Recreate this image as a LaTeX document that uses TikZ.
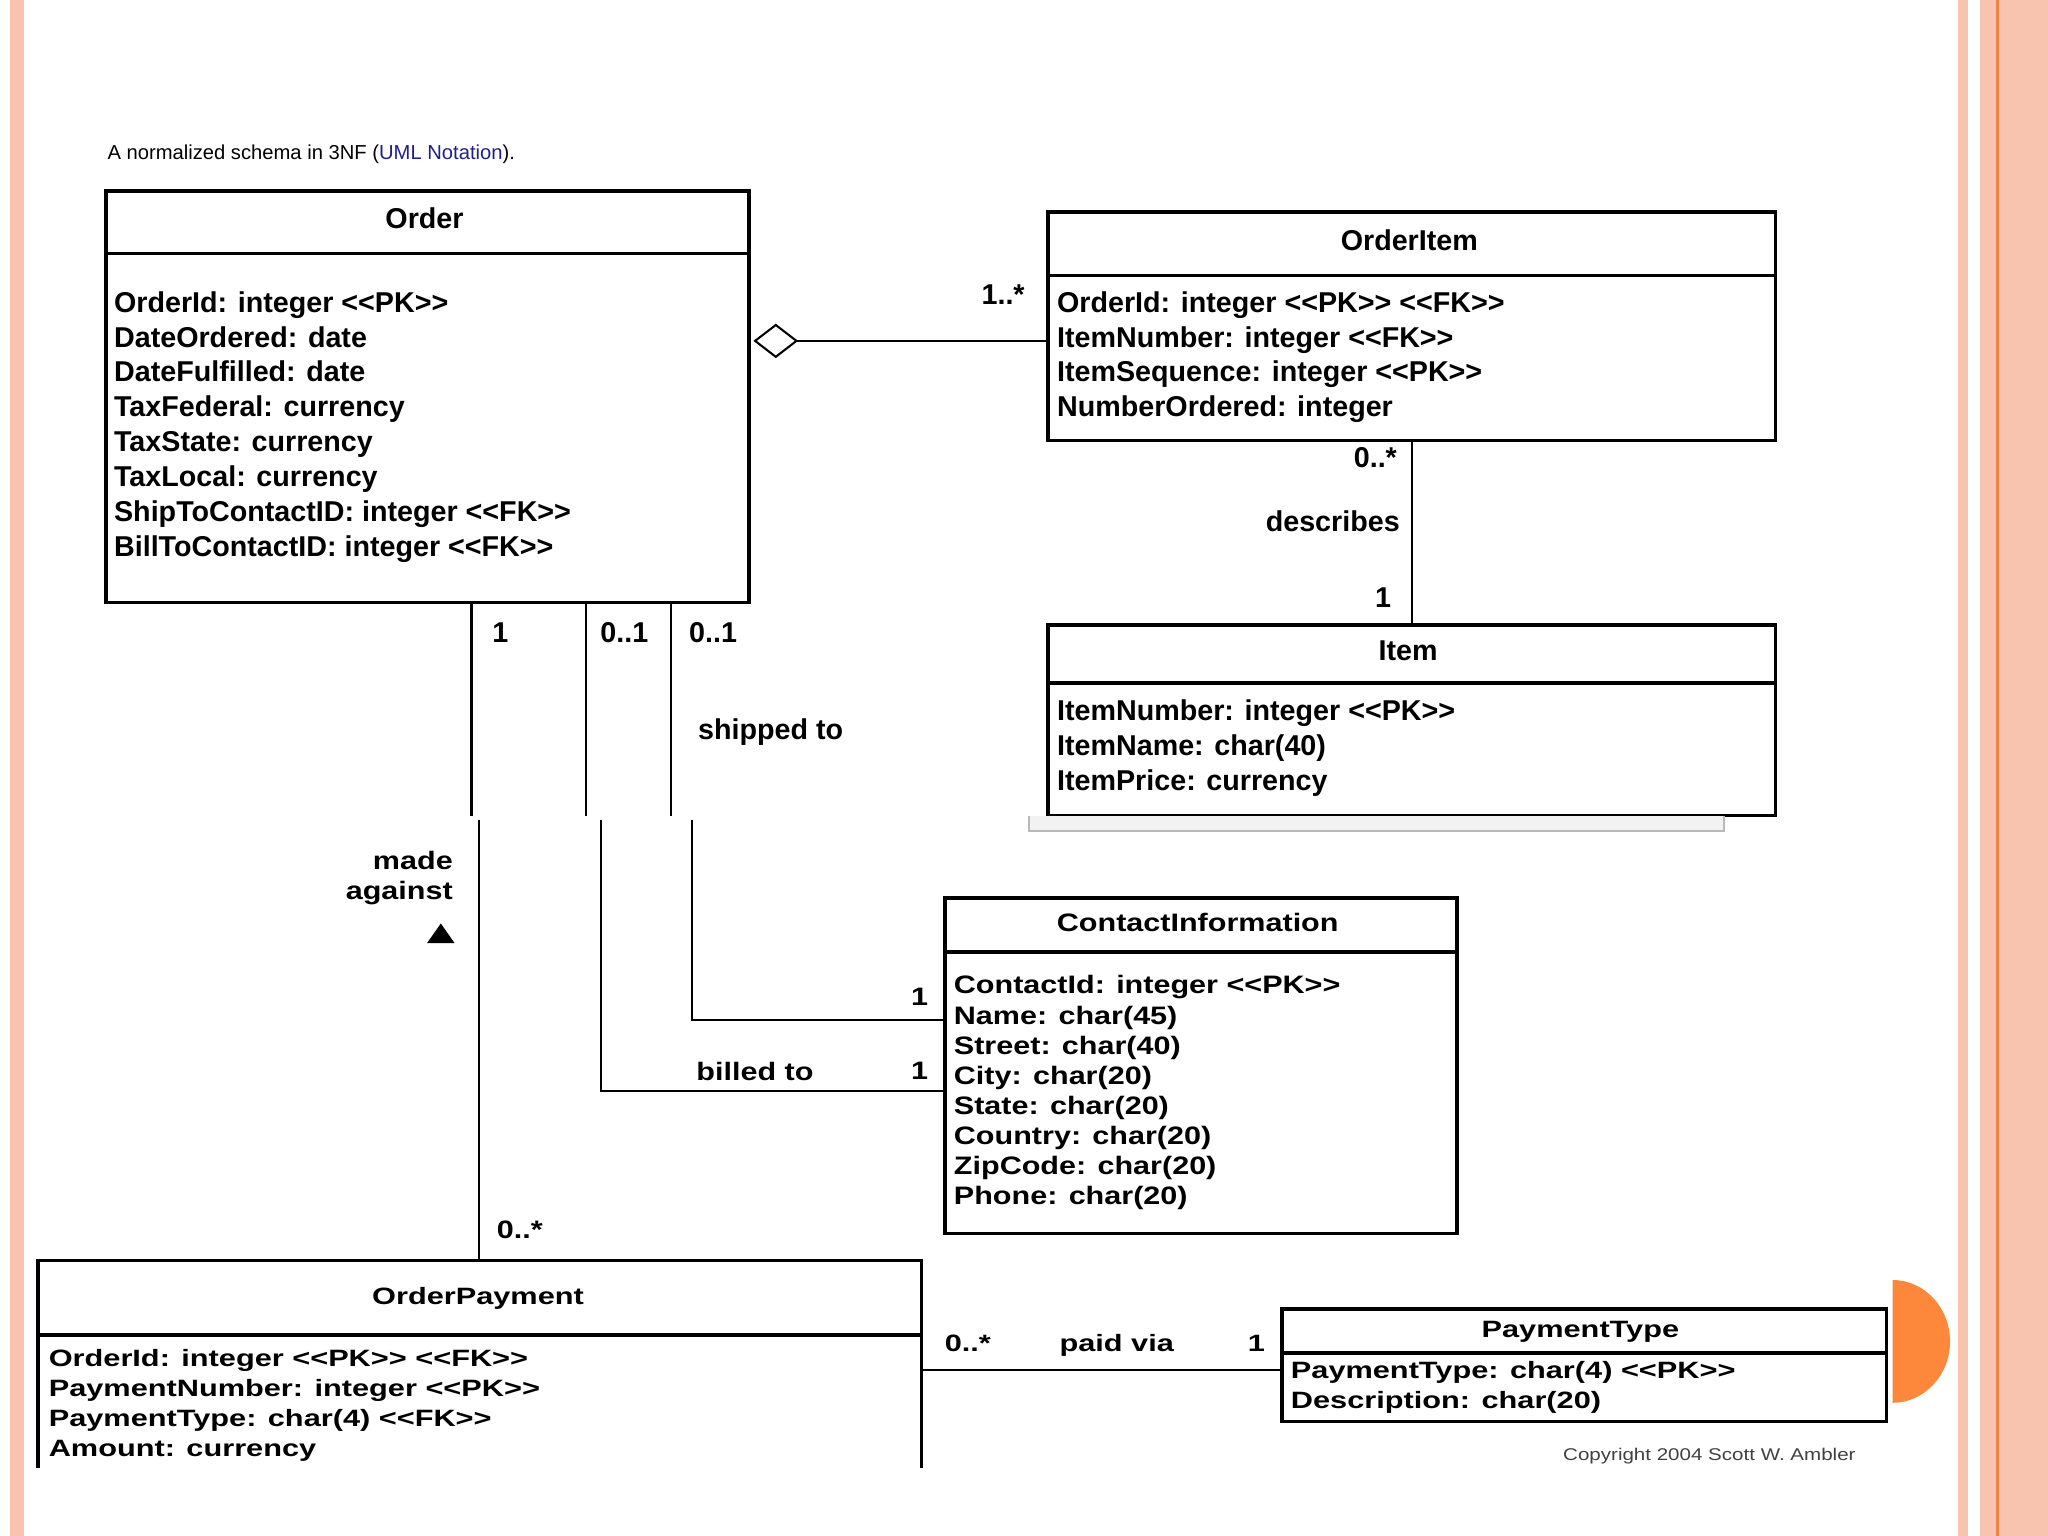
\documentclass[tikz,border=0pt]{standalone}
\usepackage{fontspec}
\setmainfont{Liberation Sans}[Ligatures=TeXOff]
\newfontfamily\contactfont{Liberation Sans}[FakeStretch=1.21,Ligatures=TeXOff]
\newfontfamily\payfont{Liberation Sans}[FakeStretch=1.3,Ligatures=TeXOff]
\usetikzlibrary{arrows.meta}
\definecolor{salmon}{RGB}{248,196,176}
\definecolor{rimline}{RGB}{240,130,70}
\definecolor{discorange}{RGB}{253,135,58}
\definecolor{umlblue}{RGB}{30,30,140}
\tikzset{
	cls/.style={draw, line width=1.6pt, inner sep=0pt, anchor=north west},
	rule/.style={line width=1.6pt},
	link/.style={line width=0.9pt},
	big/.style={inner sep=0pt, font=\fontsize{12.5}{15}\selectfont\bfseries},
	wide/.style={inner sep=0pt, font=\contactfont\fontsize{11}{13.1}\selectfont\bfseries},
	pay/.style={inner sep=0pt, font=\payfont\fontsize{10.3}{13.1}\selectfont\bfseries},
}
\begin{document}
\begin{tikzpicture}[x=0.02cm, y=-0.02cm]
	\useasboundingbox (0,0) rectangle (1568,1176);
	\fill[salmon] (8,0) rectangle (18,1176);
	\fill[salmon] (1499,0) rectangle (1507,1176);
	\fill[salmon] (1516,0) rectangle (1568,1176);
	\fill[rimline] (1528,0) rectangle (1530.5,1176);
	\fill[discorange] (1449,1074) arc[start angle=90, end angle=-90, x radius=44, y radius=47] -- cycle;

	\node[anchor=base west, inner sep=0pt, font=\fontsize{8.8}{10}\selectfont] (caption) at (82,122) {A normalized schema in 3NF (\textcolor{umlblue}{UML Notation}).};

	\node[cls, minimum width=9.84cm, minimum height=6.3cm] (order) at (80,145) {};
	\draw[rule] (order.north west) ++(0,49) -- ++(492,0);
	\node[big, anchor=base] (ordertitle) at (325,175) {Order};
	\foreach \field [count=\i] in {OrderId: integer <<PK>>, DateOrdered: date, DateFulfilled: date, TaxFederal: currency, TaxState: currency, TaxLocal: currency, ShipToContactID: integer <<FK>>, BillToContactID: integer <<FK>>}
		\node[big, anchor=base west] (orderattr\i) at (87,212.3+26.7*\i) {\field};

	\node[cls, minimum width=11.14cm, minimum height=3.5cm] (oitem) at (801,161) {};
	\draw[rule] (oitem.north west) ++(0,50) -- ++(557,0);
	\node[big, anchor=base] (oitemtitle) at (1079,192) {OrderItem};
	\foreach \field [count=\i] in {OrderId: integer <<PK>> <<FK>>, ItemNumber: integer <<FK>>, ItemSequence: integer <<PK>>, NumberOrdered: integer}
		\node[big, anchor=base west] (oitemattr\i) at (809,212.3+26.7*\i) {\field};

	\node[cls, minimum width=11.14cm, minimum height=2.92cm] (item) at (801,477) {};
	\draw[rule] (item.north west) ++(0,46) -- ++(557,0);
	\node[big, anchor=base] (itemtitle) at (1078,506) {Item};
	\foreach \field [count=\i] in {ItemNumber: integer <<PK>>, ItemName: char(40), ItemPrice: currency}
		\node[big, anchor=base west] (itemattr\i) at (809,525.3+26.7*\i) {\field};
	\fill[gray!10] (788,625) rectangle (1320,636);
	\draw[gray!55, line width=0.8pt] (788,625) |- (1320,636) -- (1320,625);

	\node[cls, minimum width=7.84cm, minimum height=5.14cm] (contact) at (722,686) {};
	\draw[rule] (contact.north west) ++(0,43) -- ++(392,0);
	\node[wide, anchor=base] (contacttitle) at (917,713) {ContactInformation};
	\foreach \field [count=\i] in {ContactId: integer <<PK>>, Name: char(45), Street: char(40), City: char(20), State: char(20), Country: char(20), ZipCode: char(20), Phone: char(20)}
		\node[wide, anchor=base west] (contactattr\i) at (730,738+23*\i) {\field};

	\node[inner sep=0pt, anchor=north west, minimum width=13.52cm, minimum height=3.16cm] (payment) at (29,965) {};
	\draw[rule] (payment.south west) |- (payment.north east) -- (payment.south east);
	\draw[rule] (payment.north west) ++(0,57) -- ++(676,0);
	\node[pay, anchor=base] (paymenttitle) at (366,999) {OrderPayment};
	\foreach \field [count=\i] in {OrderId: integer <<PK>> <<FK>>, PaymentNumber: integer <<PK>>, PaymentType: char(4) <<FK>>, Amount: currency}
		\node[pay, anchor=base west] (paymentattr\i) at (37,1023.5+23*\i) {\field};

	\node[cls, minimum width=9.26cm, minimum height=1.72cm] (ptype) at (980,1001) {};
	\draw[rule] (ptype.north west) ++(0,35) -- ++(463,0);
	\node[pay, anchor=base] (ptypetitle) at (1210,1024) {PaymentType};
	\foreach \field [count=\i] in {PaymentType: char(4) <<PK>>, Description: char(20)}
		\node[pay, anchor=base west] (ptypeattr\i) at (988,1032.5+23*\i) {\field};

	\draw[link, -{Diamond[open, length=19.5pt, width=15pt, line width=0.9pt]}, shorten >=1.2pt] (oitem.west |- 0,261) -- (order.east |- 0,261);
	\node[big, anchor=base] (aggmult) at (768,233) {1..*};

	\draw[link] (oitem.south) -- (item.north);
	\node[big, anchor=base] (descmany) at (1053,358) {0..*};
	\node[big, anchor=base east] (describes) at (1072,407) {describes};
	\node[big, anchor=base] (descone) at (1059,465) {1};

	\coordinate (madecut) at (361,625);
	\coordinate (billcut) at (449,625);
	\coordinate (shipcut) at (514,625);
	\coordinate (madeend) at (367,628);
	\coordinate (billend) at (460,628);
	\coordinate (shipend) at (530,628);
	\draw[link] (order.south -| madecut) -- (madecut);
	\draw[link] (order.south -| billcut) -- (billcut);
	\draw[link] (order.south -| shipcut) -- (shipcut);
	\node[big, anchor=base] (madeone) at (383,492) {1};
	\node[big, anchor=base] (billopt) at (478,492) {0..1};
	\node[big, anchor=base] (shipopt) at (546,492) {0..1};
	\node[big, anchor=base] (shipped) at (590,566) {shipped to};

	\draw[link] (madeend) -- (payment.north -| madeend);
	\node[wide, anchor=north east, align=right] (madeagainst) at (347,651) {made\\against};
	\fill (327,722) -- (348,722) -- (337.5,707) -- cycle;
	\node[wide, anchor=base] (madeany) at (398,948) {0..*};

	\draw[link] (billend) |- (contact.west |- 0,835);
	\node[wide, anchor=base] (billed) at (578,827.5) {billed to};
	\node[wide, anchor=base] (billone) at (704,826.5) {1};
	\draw[link] (shipend) |- (contact.west |- 0,781);
	\node[wide, anchor=base] (shipone) at (704,769.5) {1};

	\draw[link] (payment.east |- 0,1049) -- (ptype.west |- 0,1049);
	\node[pay, anchor=base] (paidany) at (741,1034.5) {0..*};
	\node[pay, anchor=base] (paidvia) at (855,1034.5) {paid via};
	\node[pay, anchor=base] (paidone) at (962,1034.5) {1};

	\node[anchor=base east, inner sep=0pt, font=\contactfont\fontsize{7.4}{9}\selectfont, text=black!75] (copyright) at (1421,1118) {Copyright 2004 Scott W. Ambler};
\end{tikzpicture}
\end{document}
